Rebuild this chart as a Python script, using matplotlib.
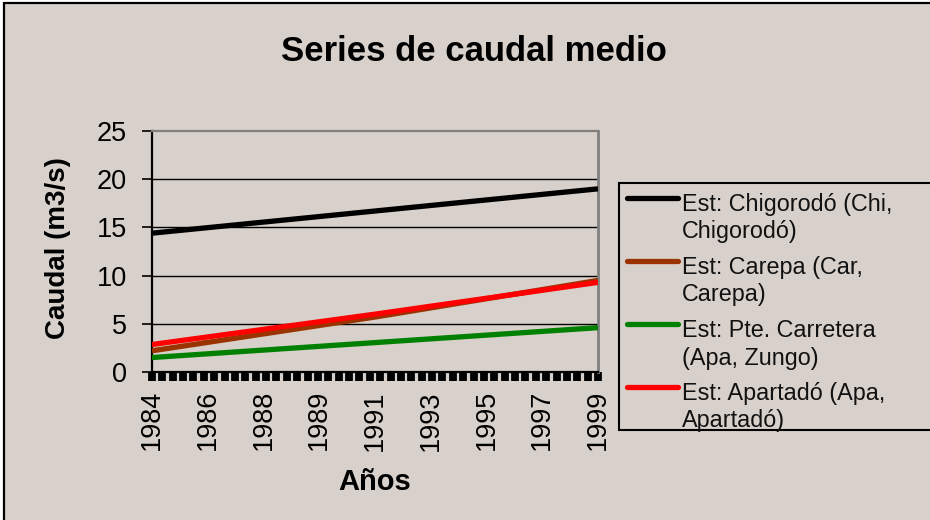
import numpy as np
import matplotlib
matplotlib.use("Agg")
import matplotlib.pyplot as plt
from matplotlib.patches import Rectangle
from matplotlib.lines import Line2D

# ---------------- data ----------------
tick_labels = ['1984', '1986', '1988', '1989', '1991', '1993', '1995', '1997', '1999']
point_labels = ['1984', '1991', '1999']          # categories where values were read
chigorodo = [14.4, 16.7, 19.0]
carepa = [2.2, 5.7, 9.5]
zungo = [1.5, 3.05, 4.6]
apartado = [2.85, 6.0, 9.3]
series_names = ['Est: Chigorodó (Chi,\nChigorodó)',
                'Est: Carepa (Car,\nCarepa)',
                'Est: Pte. Carretera\n(Apa, Zungo)',
                'Est: Apartadó (Apa,\nApartadó)']
series_values = [chigorodo, carepa, zungo, apartado]
series_colors = ['#000000', '#993300', '#008000', '#ff0000']

# ---------------- style ----------------
plt.rcParams['font.family'] = ['Liberation Sans', 'DejaVu Sans']
BG = '#d8d0ca'
W, H = 930, 520

def fx(px):
    return px / W

def fy(py):
    return 1 - py / H

fig = plt.figure(figsize=(9.3, 5.2), dpi=100, facecolor='white')

# chart area background with black border
fig.patches.append(Rectangle((fx(4), fy(560)), fx(960), fy(3) - fy(560),
                             transform=fig.transFigure, facecolor=BG,
                             edgecolor='black', linewidth=1.6, zorder=-10))

ax = fig.add_axes([fx(152), fy(372), fx(598) - fx(152), fy(131) - fy(372)])
ax.set_facecolor(BG)

xpos = {lab: i for i, lab in enumerate(tick_labels)}
for vals, col in zip(series_values, series_colors):
    xs = [xpos[p] for p in point_labels]
    ax.plot(xs, vals, color=col, linewidth=3.8, solid_capstyle='butt', zorder=3)

ax.set_xlim(0, len(tick_labels) - 1)
ax.set_ylim(0, 25)
ax.set_yticks(np.arange(0, 26, 5))
ax.set_xticks(range(len(tick_labels)))
ax.set_xticklabels(tick_labels, rotation=90, fontsize=19.5)
ax.xaxis.remove_overlapping_locs = False
ax.set_xticks(np.linspace(0, len(tick_labels) - 1, 44), minor=True)
ax.tick_params(axis='x', which='major', length=0, pad=13)
ax.tick_params(axis='x', which='minor', length=6.5, width=5.6, direction='out', color='black')
ax.tick_params(axis='y', which='major', length=7.2, width=1.2, direction='out',
               labelsize=19.5, pad=11, color='black')

for y in [5, 10, 15, 20]:
    ax.axhline(y, color='black', linewidth=1.0, zorder=1)

ax.spines['left'].set_color('black')
ax.spines['left'].set_linewidth(1.6)
ax.spines['bottom'].set_color('black')
ax.spines['bottom'].set_linewidth(1.6)
ax.spines['top'].set_color('#808080')
ax.spines['top'].set_linewidth(1.6)
ax.spines['right'].set_color('#808080')
ax.spines['right'].set_linewidth(2)

# titles
fig.text(fx(474), fy(61), 'Series de caudal medio', ha='center', va='baseline',
         fontsize=25, fontweight='bold')
fig.text(fx(58), fy(248), 'Caudal (m3/s)', ha='center', va='center', rotation=90,
         fontsize=20, fontweight='bold')
fig.text(fx(375), fy(482), 'Años', ha='center', va='center',
         fontsize=21, fontweight='bold')

# legend (drawn manually to match layout)
fig.patches.append(Rectangle((fx(619), fy(430)), fx(960) - fx(619), fy(183) - fy(430),
                             transform=fig.transFigure, facecolor=BG,
                             edgecolor='black', linewidth=1.5, zorder=1))
for i, (name, col) in enumerate(zip(series_names, series_colors)):
    base = 211 + 63 * i
    fig.add_artist(Line2D([fx(627), fx(678)], [fy(base - 13)] * 2, color=col,
                          linewidth=3.8, solid_capstyle='round',
                          transform=fig.transFigure, zorder=5))
    for j, line in enumerate(name.split('\n')):
        fig.text(fx(682), fy(base + 27.5 * j), line, ha='left', va='baseline',
                 fontsize=16.8, color='#111111', zorder=5)

fig.savefig('out.png', dpi=100, facecolor='white')
